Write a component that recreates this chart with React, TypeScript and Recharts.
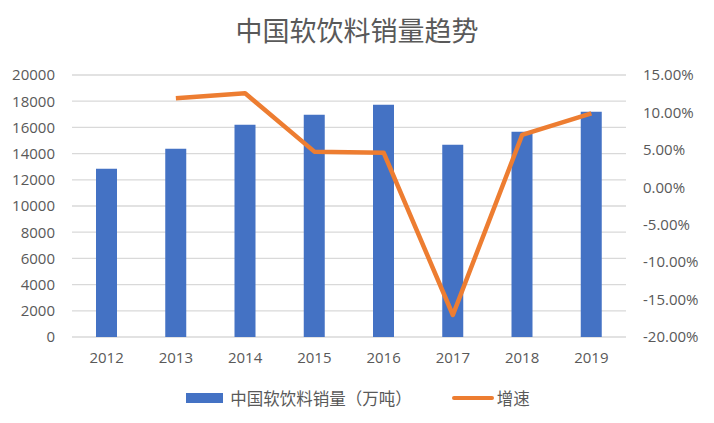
import React from "react"
import {
  ComposedChart,
  Bar,
  Line,
  XAxis,
  YAxis,
  CartesianGrid,
  Legend,
} from "recharts"

const years = ["2012", "2013", "2014", "2015", "2016", "2017", "2018", "2019"]
const sales = [12840, 14370, 16200, 16970, 17730, 14670, 15670, 17200]
const growth = [null, 0.119, 0.1256, 0.0476, 0.0462, -0.1706, 0.0699, 0.0988]
const leftTicks = [0, 2000, 4000, 6000, 8000, 10000, 12000, 14000, 16000, 18000, 20000]
const rightTicks = [-0.2, -0.15, -0.1, -0.05, 0, 0.05, 0.1, 0.15]

const title = "中国软饮料销量趋势"
const salesName = "中国软饮料销量（万吨）"
const growthName = "增速"

const BLUE = "#4472C4"
const ORANGE = "#ED7D31"
const TEXT = "#595959"
const FONT = "'Open Sans', 'Noto Sans CJK SC', sans-serif"

const chartData = years.map((y, i) => ({
  year: y,
  sales: sales[i],
  growth: growth[i],
}))

function LegendBox() {
  return (
    <div
      style={{
        height: 22,
        display: "flex",
        alignItems: "center",
        justifyContent: "center",
        fontFamily: FONT,
        fontSize: 16.5,
        color: TEXT,
        paddingLeft: 2,
      }}
    >
      <span style={{ width: 37, height: 10, background: BLUE, marginRight: 7 }} />
      <span>{salesName}</span>
      <span style={{ width: 42, height: 4, background: ORANGE, borderRadius: 2, marginLeft: 40, marginRight: 3 }} />
      <span>{growthName}</span>
    </div>
  )
}

export default function App() {
  return (
    <div style={{ position: "absolute", left: 0, top: 0, width: 714, height: 423, background: "#fff" }}>
      <div
        style={{
          position: "absolute",
          top: 11,
          left: 0,
          width: 714,
          textAlign: "center",
          fontFamily: FONT,
          fontSize: 27,
          color: TEXT,
          lineHeight: "40px",
        }}
      >
        {title}
      </div>
      <ComposedChart
        width={714}
        height={423}
        data={chartData}
        margin={{ top: 75, right: 0, left: 0, bottom: 14 }}
        style={{ fontFamily: FONT }}
      >
        <CartesianGrid yAxisId="left" stroke="#d9d9d9" strokeWidth={1.3} vertical={false} />
        <XAxis
          dataKey="year"
          axisLine={false}
          tickLine={false}
          height={50}
          tickMargin={9}
          tick={{ fontSize: 15, fill: TEXT }}
        />
        <YAxis
          yAxisId="left"
          domain={[0, 20000]}
          ticks={leftTicks}
          interval={0}
          axisLine={false}
          tickLine={false}
          width={72}
          tickMargin={11}
          tick={{ fontSize: 15, fill: TEXT }}
        />
        <YAxis
          yAxisId="right"
          orientation="right"
          domain={[-0.2, 0.15]}
          ticks={rightTicks}
          interval={0}
          axisLine={false}
          tickLine={false}
          width={88}
          tickMargin={11}
          tickFormatter={(v: number) => (v * 100).toFixed(2) + "%"}
          tick={{ fontSize: 15, fill: TEXT, textAnchor: "start" }}
        />
        <Legend verticalAlign="bottom" content={<LegendBox />} />
        <Bar
          yAxisId="left"
          dataKey="sales"
          name={salesName}
          fill={BLUE}
          barSize={21}
          isAnimationActive={false}
        />
        <Line
          yAxisId="right"
          dataKey="growth"
          name={growthName}
          stroke={ORANGE}
          strokeWidth={4.5}
          dot={false}
          activeDot={false}
          strokeLinejoin="round"
          isAnimationActive={false}
        />
      </ComposedChart>
    </div>
  )
}
